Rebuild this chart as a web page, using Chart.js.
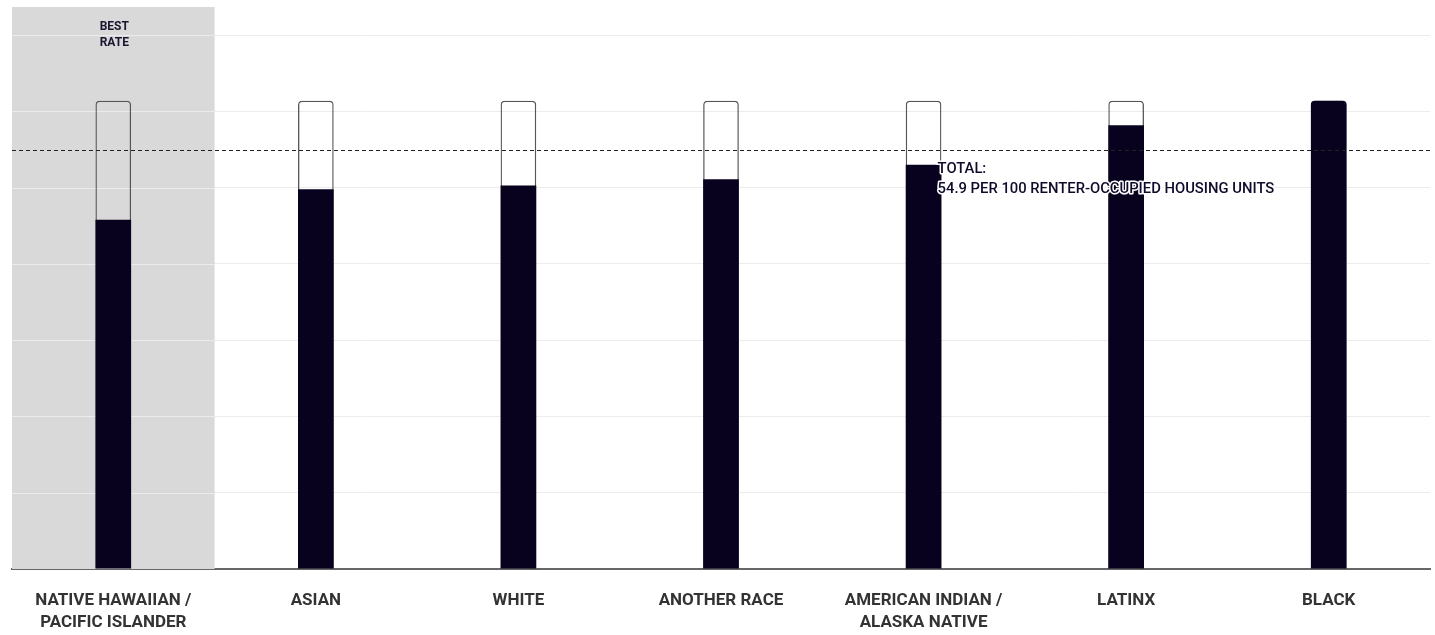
<!DOCTYPE html>
<html>
<head>
<meta charset="utf-8">
<script src="https://cdn.jsdelivr.net/npm/chart.js@4.4.1/dist/chart.umd.min.js"></script>
<style>
  html, body { margin: 0; padding: 0; background: #fff; }
  #wrap { width: 1435px; height: 635px; }
</style>
</head>
<body>
<div id="wrap"><canvas id="rateChart" width="1435" height="635"></canvas></div>
<script>
// categories and values (per 100 renter-occupied housing units)
const categories = [
    ['NATIVE HAWAIIAN /', 'PACIFIC ISLANDER'],
    'ASIAN',
    'WHITE',
    'ANOTHER RACE',
    ['AMERICAN INDIAN /', 'ALASKA NATIVE'],
    'LATINX',
    'BLACK'
];
const rates = [45.8, 49.8, 50.3, 51.1, 53.0, 58.2, 61.4];
const totalRate = 54.9;
const totalLabel = ['TOTAL:', '54.9 PER 100 RENTER-OCCUPIED HOUSING UNITS'];
const bestIndex = 0;
const bestLabel = ['BEST', 'RATE'];

let maxRate = Math.max(...rates);
let barColor = '#08021f';

// gray "best rate" column, dashed total line and its label
const extrasPlugin = {
    id: 'extras',
    beforeDatasetsDraw: function (chart) {
        let ctx = chart.ctx;
        let area = chart.chartArea;
        let xs = chart.scales.x;
        let half = (area.right - area.left) / categories.length / 2;
        let cx = xs.getPixelForValue(bestIndex);
        ctx.save();
        ctx.fillStyle = '#d9d9d9';
        ctx.fillRect(cx - half, area.top, half * 2, area.bottom - area.top);
        // redraw gridlines over the gray box
        ctx.strokeStyle = '#ececec';
        ctx.lineWidth = 1;
        chart.scales.y.ticks.forEach(function (t) {
            if (t.value === 0) return;
            let py = Math.round(chart.scales.y.getPixelForValue(t.value)) + 0.5;
            ctx.beginPath();
            ctx.moveTo(cx - half, py);
            ctx.lineTo(cx + half, py);
            ctx.stroke();
        });
        ctx.fillStyle = '#1a1530';
        ctx.font = 'bold 12px Roboto';
        ctx.textAlign = 'center';
        ctx.textBaseline = 'middle';
        ctx.fillText(bestLabel[0], cx + 1, area.top + 20);
        ctx.fillText(bestLabel[1], cx + 1, area.top + 36);
        ctx.restore();
    },
    afterDatasetsDraw: function (chart) {
        let ctx = chart.ctx;
        let area = chart.chartArea;
        let py = Math.round(chart.scales.y.getPixelForValue(totalRate)) + 0.5;
        ctx.save();
        ctx.strokeStyle = '#222';
        ctx.lineWidth = 1;
        ctx.setLineDash([4, 3]);
        ctx.beginPath();
        ctx.moveTo(area.left, py);
        ctx.lineTo(area.right, py);
        ctx.stroke();
        ctx.setLineDash([]);

        let tx = chart.scales.x.getPixelForValue(4) + 14;
        ctx.font = '500 14.8px Roboto';
        ctx.textAlign = 'left';
        ctx.textBaseline = 'middle';
        ctx.lineJoin = 'round';
        ctx.strokeStyle = '#fff';
        ctx.lineWidth = 3;
        ctx.fillStyle = '#0e0b2a';
        totalLabel.forEach(function (line, i) {
            ctx.strokeText(line, tx, py + 19 + i * 20);
            ctx.fillText(line, tx, py + 19 + i * 20);
        });
        ctx.restore();
    }
};

new Chart(document.getElementById('rateChart'), {
    type: 'bar',
    data: {
        labels: categories,
        datasets: [
            {
                label: 'Rate',
                data: rates,
                backgroundColor: barColor,
                borderWidth: 0,
                borderRadius: function (c) {
                    return c.raw >= maxRate ? { topLeft: 4, topRight: 4 } : 0;
                },
                borderSkipped: 'bottom',
                grouped: false,
                barPercentage: 0.176,
                categoryPercentage: 1
            },
            {
                label: 'Max',
                data: rates.map(function () { return maxRate; }),
                backgroundColor: 'rgba(0,0,0,0)',
                borderColor: '#555',
                borderWidth: 1.3,
                borderRadius: { topLeft: 4, topRight: 4 },
                borderSkipped: 'bottom',
                grouped: false,
                barPercentage: 0.176,
                categoryPercentage: 1
            }
        ]
    },
    options: {
        responsive: false,
        animation: false,
        layout: {
            padding: { top: 7, left: 12, right: 5, bottom: 0 }
        },
        plugins: {
            legend: { display: false },
            tooltip: { enabled: false }
        },
        scales: {
            x: {
                grid: { display: false, drawTicks: false },
                border: { display: true, color: '#666', width: 2 },
                ticks: {
                    color: '#333',
                    padding: 21,
                    maxRotation: 0,
                    autoSkip: false,
                    font: { family: 'Roboto', size: 17, weight: 'bold', lineHeight: 1.3 }
                },
                afterFit: function (s) { s.height = 66; }
            },
            y: {
                min: 0,
                max: 73.7,
                display: true,
                afterFit: function (s) { s.width = 0; },
                afterBuildTicks: function (s) {
                    s.ticks = s.ticks.filter(function (t) { return t.value % 10 === 0; });
                },
                ticks: { display: false, stepSize: 10 },
                grid: { color: '#ececec', drawTicks: false },
                border: { display: false }
            }
        }
    },
    plugins: [extrasPlugin]
});
</script>
</body>
</html>
